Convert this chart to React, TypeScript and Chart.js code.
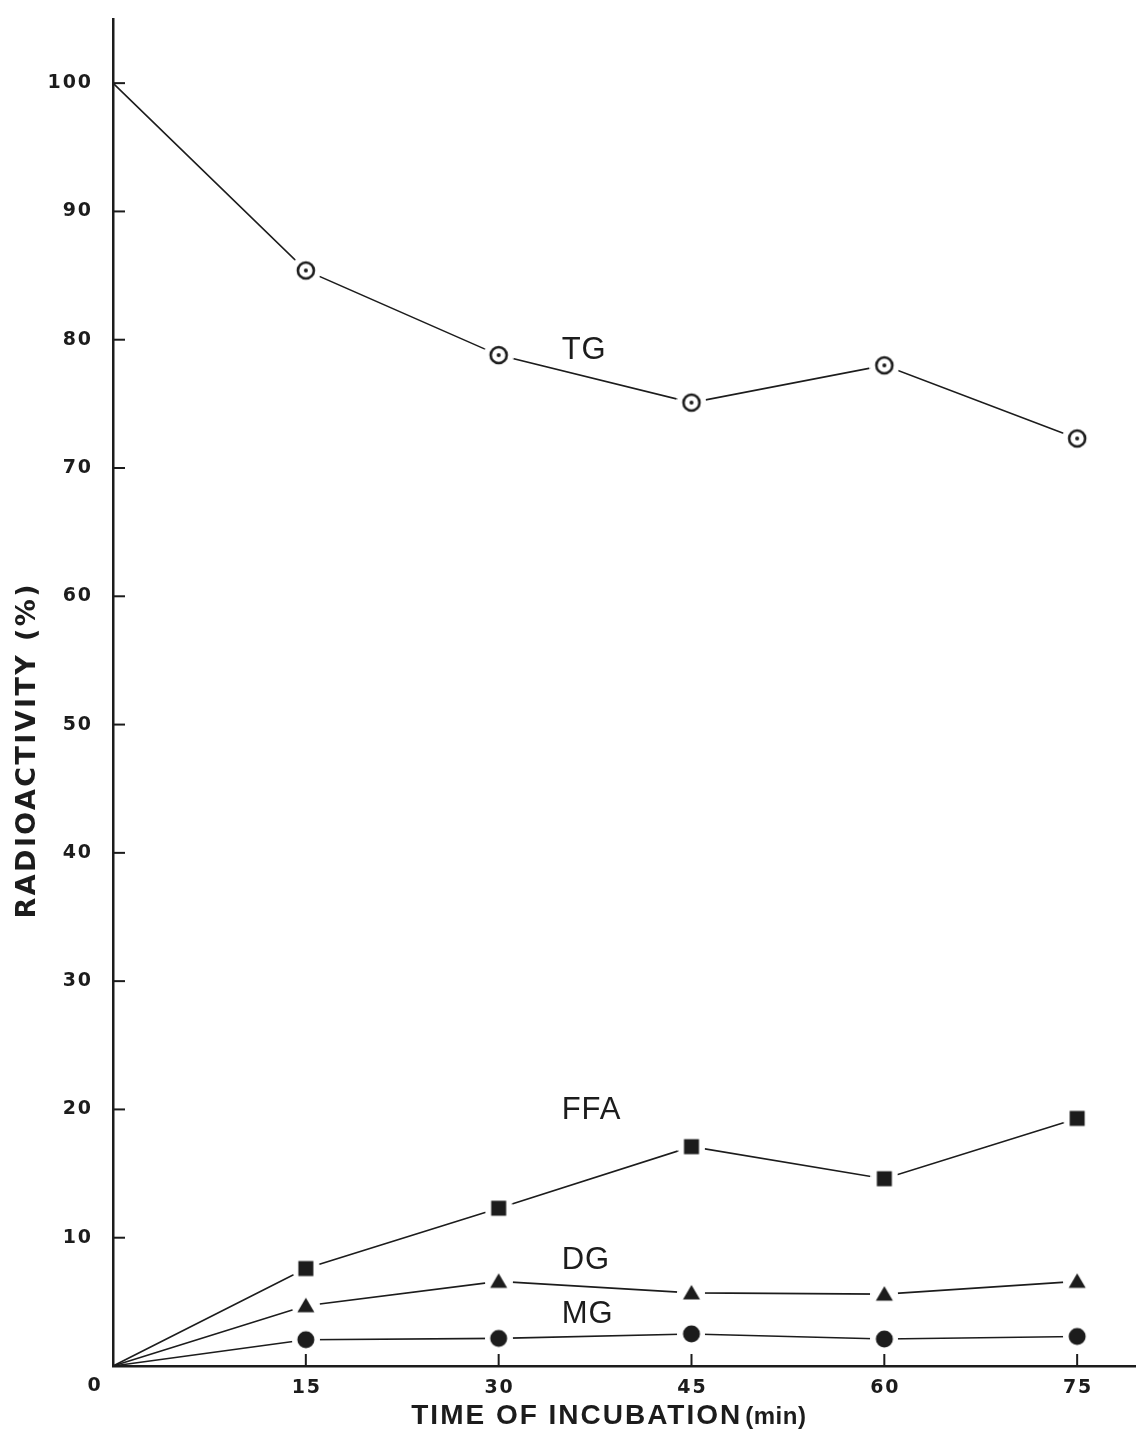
import React, { useEffect, useRef } from "react";
import { Chart, registerables } from "chart.js";

Chart.register(...registerables);

// ---- data ----
const times = [0, 15, 30, 45, 60, 75];
const tgValues = [100, 85.4, 78.8, 75.1, 78.0, 72.3];
const ffaValues = [0, 7.6, 12.3, 17.1, 14.6, 19.3];
const dgValues = [0, 4.7, 6.6, 5.7, 5.6, 6.6];
const mgValues = [0, 2.05, 2.15, 2.5, 2.1, 2.3];
const yTickValues = [10, 20, 30, 40, 50, 60, 70, 80, 90, 100];
const xTickValues = [15, 30, 45, 60, 75];
const seriesNames = ["TG", "FFA", "DG", "MG"];
const labelX = [34.9, 34.9, 34.9, 34.9];
const labelY = [79.15, 19.9, 8.26, 3.98];
const yTitle = "RADIOACTIVITY (%)";
const xTitleMain = "TIME OF INCUBATION";
const xTitleUnit = "(min)";

const INK = "#1c1c1c";

function makeMarker(kind: string): HTMLCanvasElement {
  const halo = kind === "odot" ? 15 : 14;
  const d = halo * 2;
  const c = document.createElement("canvas");
  c.width = d;
  c.height = d;
  const g = c.getContext("2d")!;
  const m = d / 2;
  g.fillStyle = "#ffffff";
  g.beginPath();
  g.arc(m, m, halo, 0, Math.PI * 2);
  g.fill();
  g.fillStyle = INK;
  g.strokeStyle = INK;
  if (kind === "odot") {
    g.lineWidth = 2.6;
    g.beginPath();
    g.arc(m, m, 8, 0, Math.PI * 2);
    g.stroke();
    g.beginPath();
    g.arc(m, m, 2, 0, Math.PI * 2);
    g.fill();
  } else if (kind === "square") {
    g.fillRect(m - 7.5, m - 7.5, 15, 15);
  } else if (kind === "triangle") {
    g.beginPath();
    g.moveTo(m, m - 8);
    g.lineTo(m + 8.5, m + 6.5);
    g.lineTo(m - 8.5, m + 6.5);
    g.closePath();
    g.fill();
  } else {
    g.beginPath();
    g.arc(m, m, 8.5, 0, Math.PI * 2);
    g.fill();
  }
  return c;
}

export default function App() {
  const ref = useRef<HTMLCanvasElement | null>(null);

  useEffect(() => {
    if (!ref.current) return;
    const markers = ["odot", "square", "triangle", "disc"].map(makeMarker);
    const seriesValues = [tgValues, ffaValues, dgValues, mgValues];

    const annot = {
      id: "annot",
      afterDraw(chart: any) {
        const ctx = chart.ctx as CanvasRenderingContext2D;
        const xs = chart.scales.x;
        const ys = chart.scales.y;
        const area = chart.chartArea;
        ctx.save();
        ctx.strokeStyle = INK;
        ctx.lineWidth = 2;
        // inward ticks on y axis
        yTickValues.forEach((v) => {
          const py = ys.getPixelForValue(v);
          ctx.beginPath();
          ctx.moveTo(area.left, py);
          ctx.lineTo(area.left + 12, py);
          ctx.stroke();
        });
        // inward ticks on x axis
        xTickValues.forEach((v) => {
          const px = xs.getPixelForValue(v);
          ctx.beginPath();
          ctx.moveTo(px, area.bottom);
          ctx.lineTo(px, area.bottom - 12);
          ctx.stroke();
        });
        // origin label
        ctx.fillStyle = INK;
        ctx.font = "bold 19px 'DejaVu Sans'";
        ctx.textAlign = "center";
        ctx.textBaseline = "middle";
        ctx.fillText("0", xs.getPixelForValue(0) - 19, area.bottom + 20);
        // series labels
        ctx.font = "31px 'Liberation Sans'";
        ctx.textAlign = "left";
        (ctx as any).letterSpacing = "1px";
        seriesNames.forEach((n, i) => {
          ctx.fillText(n, xs.getPixelForValue(labelX[i]), ys.getPixelForValue(labelY[i]));
        });
        // x title
        (ctx as any).letterSpacing = "2px";
        ctx.font = "bold 28px 'Liberation Sans'";
        ctx.textBaseline = "alphabetic";
        const base = area.bottom + 58;
        const startX = xs.getPixelForValue(23.2);
        ctx.fillText(xTitleMain, startX, base);
        const w = ctx.measureText(xTitleMain).width;
        (ctx as any).letterSpacing = "0.5px";
        ctx.font = "bold 24px 'Liberation Sans'";
        ctx.fillText(xTitleUnit, startX + w + 3, base);
        // y title
        (ctx as any).letterSpacing = "2.4px";
        ctx.font = "bold 27px 'DejaVu Sans'";
        ctx.translate(28, ys.getPixelForValue(48.0));
        ctx.rotate(-Math.PI / 2);
        ctx.textAlign = "center";
        ctx.textBaseline = "middle";
        ctx.fillText(yTitle, 0, 0);
        ctx.restore();
      },
    };

    const chart = new Chart(ref.current, {
      type: "line",
      data: {
        datasets: seriesNames.map((name, i) => ({
          label: name,
          data: times.map((t, j) => ({ x: t, y: seriesValues[i][j] })),
          borderColor: INK,
          borderWidth: 1.6,
          pointStyle: markers[i] as any,
          pointRadius: times.map((t) => (t === 0 ? 0 : 9)),
          pointHoverRadius: 0,
          tension: 0,
          fill: false,
          clip: 20,
        })),
      },
      options: {
        animation: false,
        responsive: false,
        maintainAspectRatio: false,
        events: [],
        layout: { autoPadding: false, padding: { top: 19, right: 4, left: 0, bottom: 0 } },
        plugins: {
          legend: { display: false },
          tooltip: { enabled: false },
          title: { display: false },
        },
        scales: {
          x: {
            type: "linear",
            min: 0,
            max: 79.5,
            grid: { display: false },
            border: { display: true, color: INK, width: 2.5 },
            afterBuildTicks: (s: any) => {
              s.ticks = xTickValues.map((v) => ({ value: v }));
            },
            afterFit: (s: any) => {
              s.height = 77;
              s.paddingLeft = 0;
              s.paddingRight = 0;
            },
            ticks: {
              padding: 3,
              color: INK,
              font: { family: "'DejaVu Sans'", weight: "bold", size: 19 },
              maxRotation: 0,
              callback: (v: any) => String(v).split("").join("\u200A"),
            },
          },
          y: {
            type: "linear",
            min: 0,
            max: 105,
            grid: {
              display: true,
              drawOnChartArea: false,
              drawTicks: true,
              tickLength: 20,
              color: "rgba(0,0,0,0)",
            },
            border: { display: true, color: INK, width: 2.5 },
            afterBuildTicks: (s: any) => {
              s.ticks = yTickValues.map((v) => ({ value: v }));
            },
            afterFit: (s: any) => {
              s.width = 113;
              s.paddingTop = 0;
              s.paddingBottom = 0;
            },
            ticks: {
              padding: 2,
              color: INK,
              font: { family: "'DejaVu Sans'", weight: "bold", size: 19 },
              callback: (v: any) => String(v).split("").join("\u200A"),
            },
          },
        },
      },
      plugins: [annot],
    });
    return () => chart.destroy();
  }, []);

  return (
    <div style={{ position: "absolute", left: 0, top: 0, width: 1139, height: 1443, background: "#fff" }}>
      <canvas ref={ref} width={1139} height={1443} style={{ display: "block" }} />
    </div>
  );
}
